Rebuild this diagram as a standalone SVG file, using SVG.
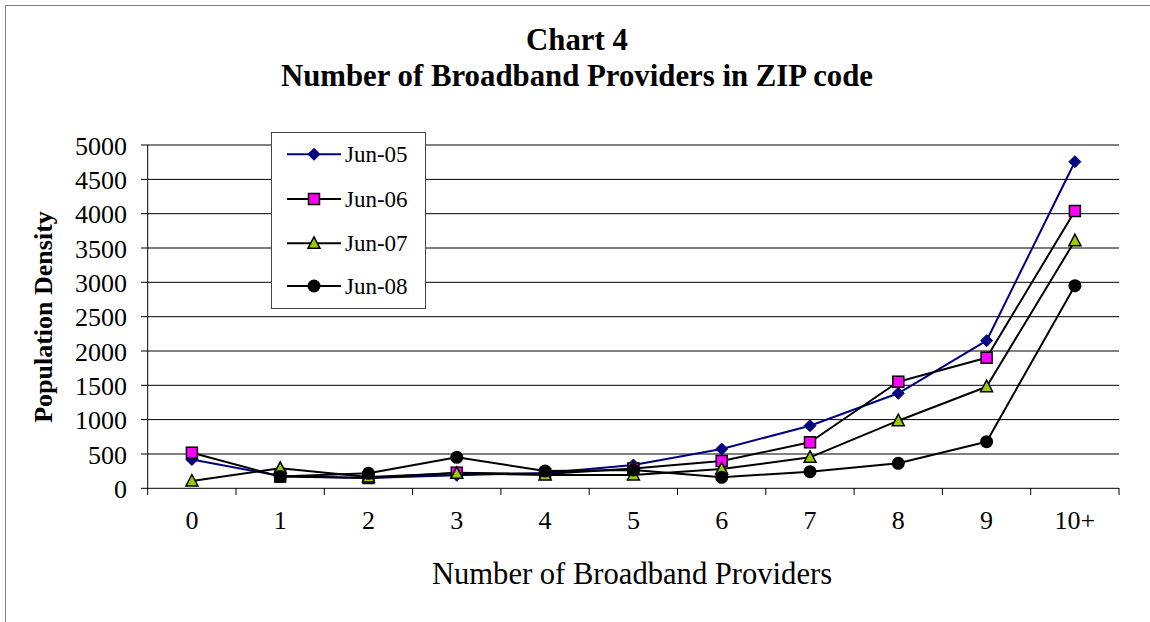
<svg xmlns="http://www.w3.org/2000/svg" xmlns:xlink="http://www.w3.org/1999/xlink" width="1150" height="622" viewBox="0 0 1150 622">
  <style>
    .serif { font-family: "Liberation Serif", "Times New Roman", serif; fill: #000; }
    .title { font-size: 30.8px; font-weight: bold; text-anchor: middle; }
    .ytick { font-size: 26px; text-anchor: end; }
    .xtick { font-size: 26px; text-anchor: middle; }
    .axtitle { font-size: 30.6px; text-anchor: middle; }
    .ytitle { font-size: 26px; font-weight: bold; text-anchor: middle; }
    .legtext { font-size: 23px; }
    .grid { stroke: #000; stroke-width: 1; fill: none; }
    .axis { stroke: #000; stroke-width: 1; fill: none; }
    .s05 { stroke: #000080; stroke-width: 2; fill: none; stroke-linejoin: round; }
    .sblk { stroke: #000; stroke-width: 2; fill: none; stroke-linejoin: round; }
  </style>
  <defs>
    <polygon id="mk-diamond" points="0,-6 6,0 0,6 -6,0" fill="#000080" stroke="#000080" stroke-width="1"/>
    <rect id="mk-square" x="-5.5" y="-5.5" width="11" height="11" fill="#FF00FF" stroke="#000" stroke-width="1.5"/>
    <polygon id="mk-triangle" points="0,-6.5 6,5 -6,5" fill="#99CC00" stroke="#000" stroke-width="1.5"/>
    <circle id="mk-circle" r="6.5" fill="#000"/>
  </defs>

  <!-- chart frame -->
  <rect x="5.5" y="5.5" width="1200" height="700" fill="#fff" stroke="#808080" stroke-width="1"/>

  <!-- titles -->
  <text class="serif title" x="577" y="50">Chart 4</text>
  <text class="serif title" x="577" y="86">Number of Broadband Providers in ZIP code</text>
  <text class="serif ytitle" transform="translate(52,317) rotate(-90)">Population Density</text>
  <text class="serif axtitle" x="632" y="584">Number of Broadband Providers</text>

  <!-- value axis grid and labels -->
  <g id="value-axis">
    <path class="grid" d="M141 145H1119 M141 179.4H1119 M141 213.7H1119 M141 248H1119 M141 282.3H1119 M141 316.7H1119 M141 351H1119 M141 385.3H1119 M141 419.6H1119 M141 454H1119"/>
    <text class="serif ytick" x="127" y="154.5">5000</text>
    <text class="serif ytick" x="127" y="188.9">4500</text>
    <text class="serif ytick" x="127" y="223.2">4000</text>
    <text class="serif ytick" x="127" y="257.5">3500</text>
    <text class="serif ytick" x="127" y="291.8">3000</text>
    <text class="serif ytick" x="127" y="326.2">2500</text>
    <text class="serif ytick" x="127" y="360.5">2000</text>
    <text class="serif ytick" x="127" y="394.8">1500</text>
    <text class="serif ytick" x="127" y="429.1">1000</text>
    <text class="serif ytick" x="127" y="463.5">500</text>
    <text class="serif ytick" x="127" y="497.8">0</text>
  </g>

  <!-- category axis -->
  <g id="category-axis">
    <path class="axis" d="M147.7 145V488.3 M141 488.3H1119"/>
    <path class="axis" d="M147.7 488V495 M236 488V495 M324.3 488V495 M412.6 488V495 M500.9 488V495 M589.2 488V495 M677.5 488V495 M765.8 488V495 M854.1 488V495 M942.4 488V495 M1030.7 488V495 M1119 488V495"/>
    <text class="serif xtick" x="191.9" y="529">0</text>
    <text class="serif xtick" x="280.2" y="529">1</text>
    <text class="serif xtick" x="368.5" y="529">2</text>
    <text class="serif xtick" x="456.8" y="529">3</text>
    <text class="serif xtick" x="545.1" y="529">4</text>
    <text class="serif xtick" x="633.4" y="529">5</text>
    <text class="serif xtick" x="721.7" y="529">6</text>
    <text class="serif xtick" x="810" y="529">7</text>
    <text class="serif xtick" x="898.3" y="529">8</text>
    <text class="serif xtick" x="986.6" y="529">9</text>
    <text class="serif xtick" x="1074.9" y="529">10+</text>
  </g>

  <!-- data series -->
  <g id="connectors">
    <polyline id="line-jun05" class="s05" points="191.9,459.5 280.2,476 368.5,478 456.8,475.3 545.1,472.9 633.4,465 721.7,449 810,425.7 898.3,393.3 986.6,340.7 1074.9,161.7"/>
    <polyline id="line-jun06" class="sblk" points="191.9,452.7 280.2,476.6 368.5,478 456.8,472.7 545.1,473.9 633.4,468.4 721.7,461 810,442.3 898.3,381.7 986.6,357.7 1074.9,211"/>
    <polyline id="line-jun07" class="sblk" points="191.9,481 280.2,468.3 368.5,477 456.8,473.3 545.1,475 633.4,475 721.7,469 810,457.3 898.3,420.7 986.6,386.7 1074.9,240.7"/>
    <polyline id="line-jun08" class="sblk" points="280.2,476.6 368.5,473.3 456.8,457.3 545.1,471 633.4,470 721.7,477.3 810,471.7 898.3,463.3 986.6,441.7 1074.9,285.7"/>
  </g>

  <g id="series-jun05">
    <use xlink:href="#mk-diamond" x="191.9" y="459.5"/>
    <use xlink:href="#mk-diamond" x="280.2" y="476"/>
    <use xlink:href="#mk-diamond" x="368.5" y="478"/>
    <use xlink:href="#mk-diamond" x="456.8" y="475.3"/>
    <use xlink:href="#mk-diamond" x="545.1" y="472.9"/>
    <use xlink:href="#mk-diamond" x="633.4" y="465"/>
    <use xlink:href="#mk-diamond" x="721.7" y="449"/>
    <use xlink:href="#mk-diamond" x="810" y="425.7"/>
    <use xlink:href="#mk-diamond" x="898.3" y="393.3"/>
    <use xlink:href="#mk-diamond" x="986.6" y="340.7"/>
    <use xlink:href="#mk-diamond" x="1074.9" y="161.7"/>
  </g>
  <g id="series-jun06">
    <use xlink:href="#mk-square" x="191.9" y="452.7"/>
    <use xlink:href="#mk-square" x="280.2" y="476.6"/>
    <use xlink:href="#mk-square" x="368.5" y="478"/>
    <use xlink:href="#mk-square" x="456.8" y="472.7"/>
    <use xlink:href="#mk-square" x="545.1" y="473.9"/>
    <use xlink:href="#mk-square" x="633.4" y="468.4"/>
    <use xlink:href="#mk-square" x="721.7" y="461"/>
    <use xlink:href="#mk-square" x="810" y="442.3"/>
    <use xlink:href="#mk-square" x="898.3" y="381.7"/>
    <use xlink:href="#mk-square" x="986.6" y="357.7"/>
    <use xlink:href="#mk-square" x="1074.9" y="211"/>
  </g>
  <g id="series-jun07">
    <use xlink:href="#mk-triangle" x="191.9" y="481"/>
    <use xlink:href="#mk-triangle" x="280.2" y="468.3"/>
    <use xlink:href="#mk-triangle" x="368.5" y="477"/>
    <use xlink:href="#mk-triangle" x="456.8" y="473.3"/>
    <use xlink:href="#mk-triangle" x="545.1" y="475"/>
    <use xlink:href="#mk-triangle" x="633.4" y="475"/>
    <use xlink:href="#mk-triangle" x="721.7" y="469"/>
    <use xlink:href="#mk-triangle" x="810" y="457.3"/>
    <use xlink:href="#mk-triangle" x="898.3" y="420.7"/>
    <use xlink:href="#mk-triangle" x="986.6" y="386.7"/>
    <use xlink:href="#mk-triangle" x="1074.9" y="240.7"/>
  </g>
  <g id="series-jun08">
    <use xlink:href="#mk-circle" x="280.2" y="476.6"/>
    <use xlink:href="#mk-circle" x="368.5" y="473.3"/>
    <use xlink:href="#mk-circle" x="456.8" y="457.3"/>
    <use xlink:href="#mk-circle" x="545.1" y="471"/>
    <use xlink:href="#mk-circle" x="633.4" y="470"/>
    <use xlink:href="#mk-circle" x="721.7" y="477.3"/>
    <use xlink:href="#mk-circle" x="810" y="471.7"/>
    <use xlink:href="#mk-circle" x="898.3" y="463.3"/>
    <use xlink:href="#mk-circle" x="986.6" y="441.7"/>
    <use xlink:href="#mk-circle" x="1074.9" y="285.7"/>
  </g>

  <!-- legend -->
  <g id="legend">
    <rect x="271.5" y="132.5" width="154" height="176" fill="#fff" stroke="#444" stroke-width="1"/>
    <g id="legend-jun05">
      <line class="s05" x1="287" y1="154.3" x2="341" y2="154.3"/>
      <use xlink:href="#mk-diamond" x="314" y="154.3"/>
      <text class="serif legtext" x="345" y="162">Jun-05</text>
    </g>
    <g id="legend-jun06">
      <line class="sblk" x1="287" y1="199" x2="341" y2="199"/>
      <use xlink:href="#mk-square" x="314" y="199"/>
      <text class="serif legtext" x="345" y="206.7">Jun-06</text>
    </g>
    <g id="legend-jun07">
      <line class="sblk" x1="287" y1="243.3" x2="341" y2="243.3"/>
      <use xlink:href="#mk-triangle" x="314" y="243.3"/>
      <text class="serif legtext" x="345" y="251">Jun-07</text>
    </g>
    <g id="legend-jun08">
      <line class="sblk" x1="287" y1="286" x2="341" y2="286"/>
      <use xlink:href="#mk-circle" x="314" y="286"/>
      <text class="serif legtext" x="345" y="293.7">Jun-08</text>
    </g>
  </g>
</svg>
